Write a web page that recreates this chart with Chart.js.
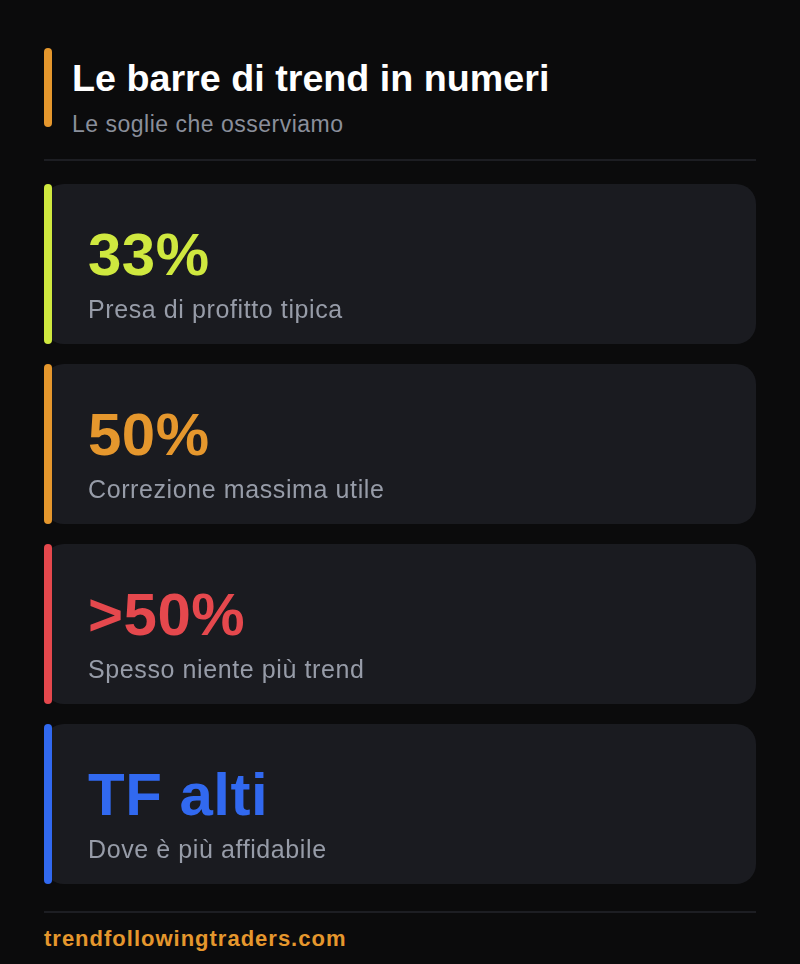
<!DOCTYPE html>
<html>
<head>
<meta charset="utf-8">
<script src="https://cdn.jsdelivr.net/npm/chart.js@4.4.1/dist/chart.umd.min.js"></script>
<style>
  html, body { margin: 0; padding: 0; background: #0b0b0c; }
  body { width: 800px; height: 964px; position: relative; overflow: hidden; font-family: "Liberation Sans", Arial, sans-serif; }
  .accent { position: absolute; left: 44px; top: 48px; width: 8px; height: 79px; border-radius: 4px; background: #e5972d; }
  .title { position: absolute; left: 72px; top: 60.1px; font-size: 37.7px; line-height: 1; font-weight: 700; color: #ffffff; white-space: nowrap; }
  .subtitle { position: absolute; left: 72px; top: 112.5px; font-size: 23px; line-height: 1; color: #8a8f9b; letter-spacing: 0.5px; white-space: nowrap; }
  .sep { position: absolute; left: 44px; width: 712px; height: 2px; background: #1d1e23; }
  .footer { position: absolute; left: 44px; top: 928.4px; font-size: 22px; line-height: 1; font-weight: 700; color: #e5972d; letter-spacing: 1px; white-space: nowrap; }
  #cards { position: absolute; left: 0; top: 174px; }
</style>
</head>
<body>
<div class="accent"></div>
<div class="title">Le barre di trend in numeri</div>
<div class="subtitle">Le soglie che osserviamo</div>
<div class="sep" style="top:159px"></div>
<canvas id="cards" width="800" height="720" style="width:800px;height:720px"></canvas>
<div class="sep" style="top:911px"></div>
<div class="footer">trendfollowingtraders.com</div>

<script>
// ---- data ----
const categories = ['Presa di profitto tipica', 'Correzione massima utile', 'Spesso niente più trend', 'Dove è più affidabile'];
const valueLabels = ['33%', '50%', '>50%', 'TF alti'];
const cardSpan = [1, 1, 1, 1];
const accentColors = ['#cfe83f', '#e5972d', '#e5484d', '#3169f0'];

const cardTextPlugin = {
  id: 'cardText',
  afterDatasetsDraw(chart) {
    const ctx = chart.ctx;
    const meta = chart.getDatasetMeta(0);
    meta.data.forEach((bar, i) => {
      const h = bar.height;
      const top = bar.y - h / 2;
      const left = bar.base;
      ctx.save();
      // accent stripe
      ctx.fillStyle = accentColors[i];
      ctx.beginPath();
      ctx.roundRect(left, top, 8, h, 4);
      ctx.fill();
      // big value
      ctx.textBaseline = 'alphabetic';
      ctx.textAlign = 'left';
      ctx.fillStyle = accentColors[i];
      ctx.font = 'bold 60px "Liberation Sans", Arial, sans-serif';
      ctx.letterSpacing = '0.5px';
      ctx.fillText(valueLabels[i], left + 44, top + 91);
      // description
      ctx.fillStyle = '#979ca8';
      ctx.font = '25px "Liberation Sans", Arial, sans-serif';
      ctx.letterSpacing = '0.6px';
      ctx.fillText(categories[i], left + 44, top + 134);
      ctx.restore();
    });
  }
};

new Chart(document.getElementById('cards'), {
  type: 'bar',
  data: {
    labels: categories,
    datasets: [{
      data: cardSpan,
      backgroundColor: '#1a1b20',
      borderRadius: 20,
      borderSkipped: false,
      barPercentage: 160 / 180,
      categoryPercentage: 1
    }]
  },
  options: {
    indexAxis: 'y',
    responsive: false,
    animation: false,
    layout: { padding: { left: 44, right: 44, top: 0, bottom: 0 } },
    plugins: { legend: { display: false }, tooltip: { enabled: false } },
    scales: {
      x: { display: false, min: 0, max: 1 },
      y: { display: false, offset: true }
    }
  },
  plugins: [cardTextPlugin]
});
</script>
</body>
</html>
